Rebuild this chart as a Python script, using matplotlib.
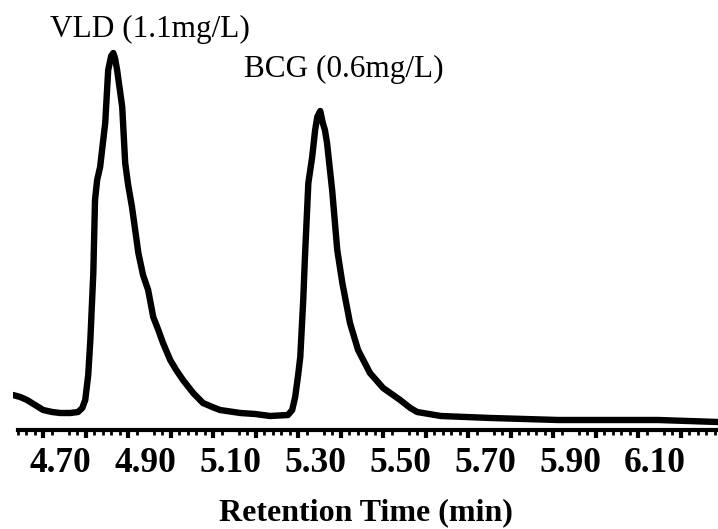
import matplotlib
matplotlib.use('Agg')
import matplotlib.pyplot as plt
from matplotlib.ticker import MultipleLocator, FixedLocator
import numpy as np

# chromatogram (retention time in min, signal in arbitrary units)
tiempo = [4.589, 4.606, 4.622, 4.641, 4.660, 4.681, 4.700, 4.724, 4.742, 4.752,
          4.759, 4.766, 4.771, 4.778, 4.782, 4.787, 4.794, 4.806, 4.813, 4.820,
          4.825, 4.829, 4.834, 4.846, 4.853, 4.860, 4.869, 4.884, 4.895, 4.907,
          4.919, 4.931, 4.942, 4.959, 4.973, 4.989, 5.013, 5.036, 5.058, 5.076,
          5.124, 5.159, 5.194, 5.236, 5.246, 5.253, 5.260, 5.265, 5.272, 5.276,
          5.284, 5.293, 5.300, 5.305, 5.312, 5.318, 5.323, 5.328, 5.340, 5.352,
          5.364, 5.382, 5.401, 5.429, 5.460, 5.500, 5.524, 5.540, 5.596, 5.714,
          5.872, 6.107, 6.248]
senal = [35, 33, 30, 25, 20, 18, 17, 17, 18, 22,
         30, 55, 90, 157, 230, 250, 263, 307, 360, 374,
         377, 372, 360, 323, 267, 245, 223, 177, 155, 140,
         113, 100, 87, 70, 60, 50, 37, 27, 23, 20,
         17, 16, 14, 15, 20, 33, 55, 73, 130, 173,
         247, 273, 300, 313, 319, 307, 300, 287, 240, 180,
         147, 107, 80, 57, 42, 30, 22, 18, 14, 12,
         10, 10, 8]

etiquetas_x = [4.70, 4.90, 5.10, 5.30, 5.50, 5.70, 5.90, 6.10]
marcas_x = [4.66, 4.76, 4.86, 4.96, 5.06, 5.16, 5.26, 5.36, 5.46, 5.56,
            5.66, 5.76, 5.86, 5.96, 6.06, 6.16]

picos = ['VLD (1.1mg/L)', 'BCG (0.6mg/L)']
picos_pos = [(4.912, 393), (5.368, 353)]

plt.rcParams['font.family'] = ['Liberation Serif', 'DejaVu Serif']

fig = plt.figure(figsize=(7.18, 5.29), dpi=100)
ax = fig.add_axes([13 / 718, 99 / 529, 705 / 718, 410 / 529])

ax.plot(tiempo, senal, '-', color='black', lw=4.6, solid_joinstyle='round',
        solid_capstyle='round')

ax.set_xlim(4.589, 6.248)
ax.set_ylim(0, 410)

for s in ['top', 'right', 'left']:
    ax.spines[s].set_visible(False)
ax.spines['bottom'].set_linewidth(3)
ax.spines['bottom'].set_bounds(4.601, 6.248)
ax.set_yticks([])

ax.set_xticks(etiquetas_x)
ax.set_xticklabels(['{:.2f}'.format(v) for v in etiquetas_x])
ax.tick_params(axis='x', which='major', length=0, pad=12, labelsize=25.5)
for lab in ax.get_xticklabels():
    lab.set_fontweight('bold')
ax.xaxis.set_minor_locator(MultipleLocator(0.02))
ax.tick_params(axis='x', which='minor', length=3.5, width=2, color='black')

sec = ax.secondary_xaxis('bottom')
sec.spines['bottom'].set_visible(False)
sec.xaxis.set_major_locator(FixedLocator(marcas_x))
sec.tick_params(axis='x', length=6, width=3, labelbottom=False)

ax.set_xlabel('Retention Time (min)', fontsize=23, fontweight='bold', labelpad=13)

for txt, (x, y) in zip(picos, picos_pos):
    ax.text(x, y, txt, fontsize=22.5, ha='center', va='baseline')

fig.savefig('out.png', dpi=100)
